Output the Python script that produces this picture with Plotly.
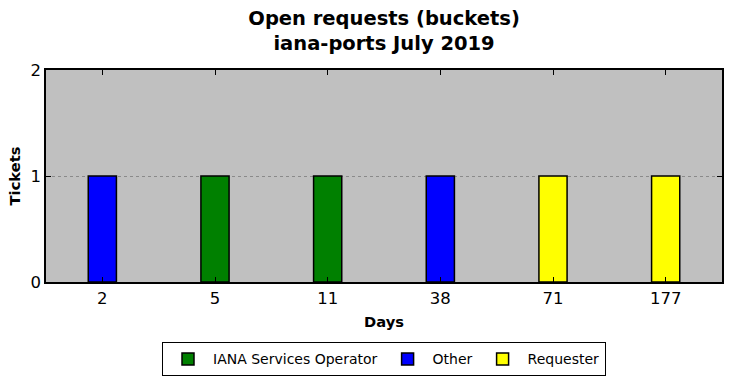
import plotly.graph_objects as go

days = ["2", "5", "11", "38", "71", "177"]
iana_days = ["5", "11"]
iana_vals = [1, 1]
other_days = ["2", "38"]
other_vals = [1, 1]
req_days = ["71", "177"]
req_vals = [1, 1]

fig = go.Figure()
for name, xs, ys, col in [
    ("IANA Services Operator", iana_days, iana_vals, "green"),
    ("Other", other_days, other_vals, "blue"),
    ("Requester", req_days, req_vals, "yellow"),
]:
    fig.add_trace(go.Bar(x=xs, y=ys, name=name, width=0.25,
                         marker=dict(color=col, line=dict(color="black", width=1.5))))

fig.update_layout(
    width=731, height=378,
    barmode="overlay",
    paper_bgcolor="white", plot_bgcolor="#c0c0c0",
    margin=dict(l=46, r=9, t=70, b=96, autoexpand=False),
    font=dict(family="DejaVu Sans", size=16.5, color="black"),
    title=dict(text="<b>Open requests (buckets)<br>iana-ports July 2019</b>",
               x=0.5254, xanchor="center", y=0.935, yanchor="top",
               font=dict(size=19.5)),
    showlegend=True,
    legend=dict(orientation="h", x=0.5, xanchor="center", y=-0.285, yanchor="top",
                bordercolor="black", borderwidth=1, font=dict(size=14),
                itemwidth=40, traceorder="normal"),
)
fig.update_xaxes(categoryorder="array", categoryarray=days, range=[-0.5, 5.5],
                 automargin=False,
                 showline=True, linecolor="black", linewidth=1.5, mirror="ticks",
                 ticks="inside", ticklen=5, tickcolor="black",
                 title=dict(text="<b>Days</b>", font=dict(size=14.7), standoff=10),
                 showgrid=False)
fig.update_yaxes(range=[0, 2], tickvals=[0, 1, 2], automargin=False,
                 showline=True, linecolor="black", linewidth=1.5, mirror="ticks",
                 ticks="inside", ticklen=5, tickcolor="black",
                 showgrid=True, gridcolor="#8a8a8a", griddash="dot", gridwidth=1,
                 zeroline=False,
                 title=dict(text="<b>Tickets</b>", font=dict(size=14.7), standoff=6))

fig.write_html("out.html", config={"responsive": False, "displayModeBar": False},
               post_script="document.body.style.margin='0';document.body.style.overflow='hidden';")
